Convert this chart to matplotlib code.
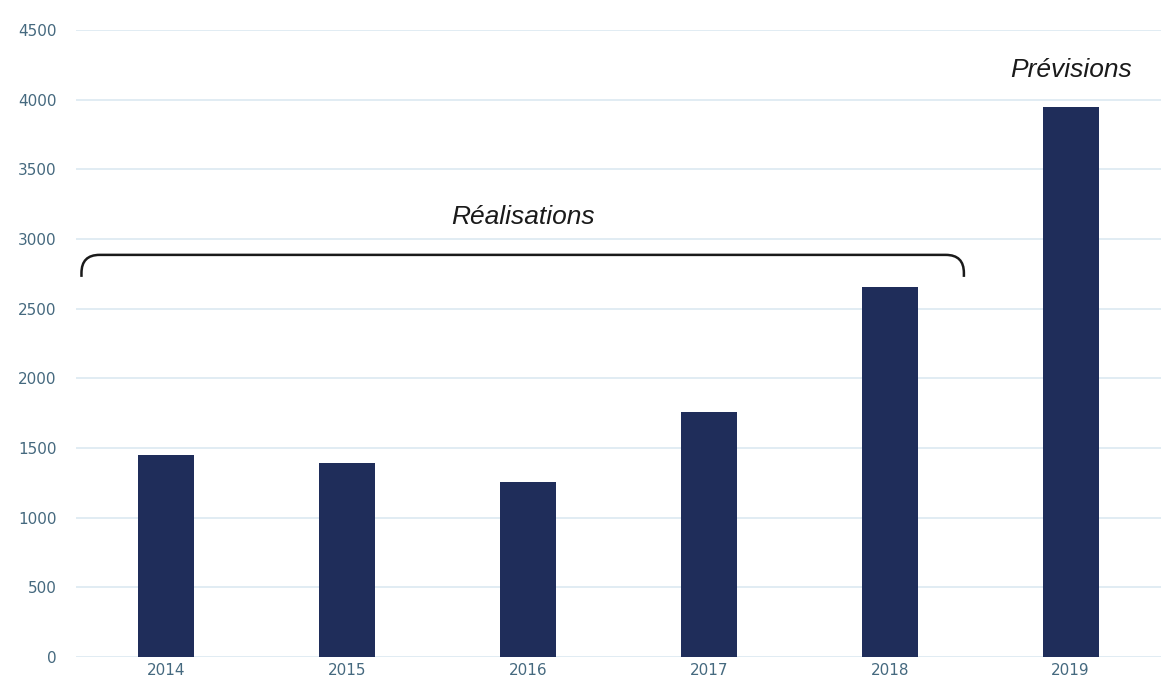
import matplotlib
matplotlib.use("Agg")
from matplotlib import pyplot as plt
from matplotlib.path import Path
from matplotlib.patches import PathPatch

years = ["2014", "2015", "2016", "2017", "2018", "2019"]
values = [1450, 1390, 1256, 1759, 2656, 3948]
yticks = [0, 500, 1000, 1500, 2000, 2500, 3000, 3500, 4000, 4500]

bar_color = "#1f2d5a"
grid_color = "#dbe9f1"
tick_color = "#45697f"

fig = plt.figure(figsize=(11.61, 6.91), dpi=100)
ax = fig.add_axes([0.0655, 0.0492, 0.9345, 0.9074])

x = range(len(years))
ax.bar(x, values, width=0.31, color=bar_color, zorder=3)
ax.set_xlim(-0.5, len(years) - 0.5)
ax.set_ylim(0, 4500)
ax.set_yticks(yticks)
ax.set_xticks(list(x))
ax.set_xticklabels(years)
ax.yaxis.grid(True, color=grid_color, linewidth=1.2, zorder=0)
for s in ax.spines.values():
    s.set_visible(False)
ax.tick_params(length=0, colors=tick_color, labelsize=11)
ax.tick_params(axis="y", pad=14)
ax.tick_params(axis="x", pad=4)

# bracket over the realised years
x0, x1 = -0.47, 4.41
ytop, ybot = 2886, 2728
rx, ry = 0.1, 130
verts = [
    (x0, ybot), (x0, ytop - ry),
    (x0, ytop), (x0 + rx, ytop),
    (x1 - rx, ytop),
    (x1, ytop), (x1, ytop - ry),
    (x1, ybot),
]
codes = [
    Path.MOVETO, Path.LINETO,
    Path.CURVE3, Path.CURVE3,
    Path.LINETO,
    Path.CURVE3, Path.CURVE3,
    Path.LINETO,
]
ax.add_patch(PathPatch(Path(verts, codes), fill=False, edgecolor="#1a1a1a",
                       linewidth=1.8, zorder=4, clip_on=False))

ax.text(1.97, 3160, "Réalisations", fontsize=19, style="italic",
        family="Liberation Sans", color="#1a1a1a", ha="center", va="center")
ax.text(5.0, 4214, "Prévisions", fontsize=19, style="italic",
        family="Liberation Sans", color="#1a1a1a", ha="center", va="center")

fig.savefig("out.png", dpi=100, facecolor="white")
